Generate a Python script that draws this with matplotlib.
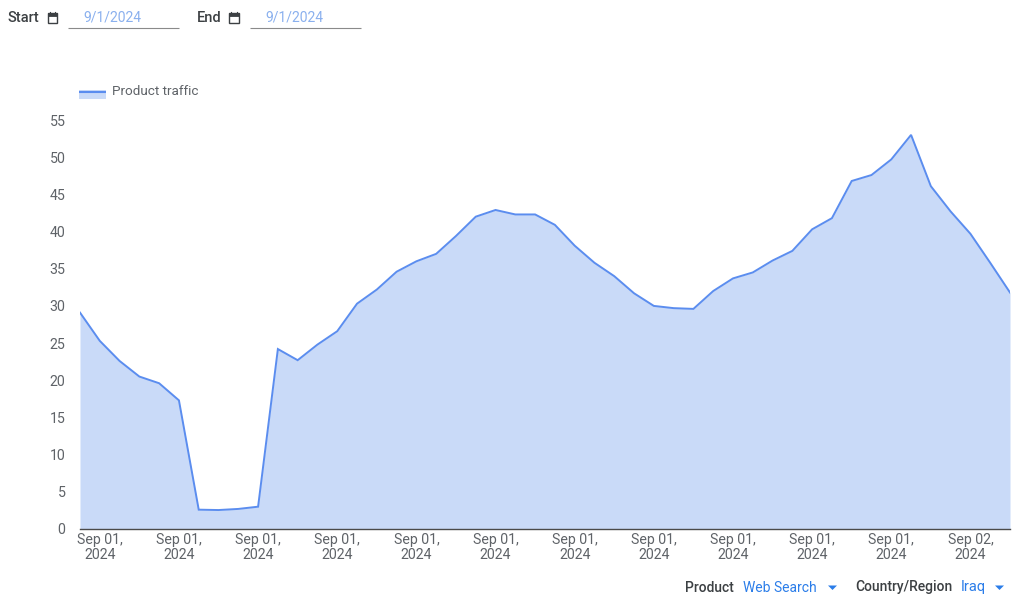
import matplotlib
matplotlib.use('Agg')
import numpy as np
from matplotlib import pyplot as plt
from matplotlib.patches import Rectangle, Polygon

plt.rcParams['font.family'] = ['Roboto', 'DejaVu Sans']

# product traffic, one value per sample
traffic = [29.1, 25.3, 22.6, 20.5, 19.6, 17.3, 2.6, 2.55, 2.7, 3.0, 24.2, 22.7,
           24.8, 26.6, 30.3, 32.2, 34.6, 36.0, 37.0, 39.4, 42.0, 42.9, 42.3, 42.3,
           40.9, 38.1, 35.8, 34.0, 31.7, 30.0, 29.7, 29.6, 32.0, 33.7, 34.5, 36.1,
           37.4, 40.3, 41.8, 46.8, 47.6, 49.7, 53.0, 46.1, 42.7, 39.7, 35.8, 31.8]
tick_pos = [1, 5, 9, 13, 17, 21, 25, 29, 33, 37, 41, 45]
tick_labels = ['Sep 01,\n2024'] * 11 + ['Sep 02,\n2024']
y_ticks = [0, 5, 10, 15, 20, 25, 30, 35, 40, 45, 50, 55]

LINE = '#5b8def'
FILL = '#c9daf8'
GREY = '#5f6368'
DARK = '#3c4043'
BLUE = '#2b7de9'
W, H = 1024, 602

fig = plt.figure(figsize=(W / 100, H / 100), dpi=100)
ax = fig.add_axes([80 / W, 1 - 529 / H, 930 / W, 409 / H])
x = np.arange(len(traffic))
ax.fill_between(x, traffic, 0, color=FILL, lw=0)
ax.plot(x, traffic, color=LINE, lw=1.4, solid_joinstyle='miter')
ax.set_xlim(0, len(traffic) - 1)
ax.set_ylim(0, 55)
ax.set_xticks(tick_pos)
ax.set_xticklabels(tick_labels, linespacing=1.05)
ax.set_yticks(y_ticks)
ax.tick_params(axis='both', length=0, labelsize=10.2, labelcolor=GREY)
ax.tick_params(axis='x', pad=3)
ax.tick_params(axis='y', pad=10.5)
for side in ['top', 'right', 'left']:
    ax.spines[side].set_visible(False)
ax.spines['bottom'].set_color('#4a4a4a')
ax.spines['bottom'].set_linewidth(1)

# overlay in pixel coordinates for the page controls
ui = fig.add_axes([0, 0, 1, 1], facecolor='none')
ui.set_xlim(0, W)
ui.set_ylim(H, 0)
ui.axis('off')


def calendar(px, py):
    ui.add_patch(Rectangle((px, py), 9.5, 9.5, fill=False, ec=DARK, lw=1))
    ui.add_patch(Rectangle((px, py), 9.5, 2.5, fc=DARK, ec=DARK, lw=0.6))
    ui.plot([px + 2, px + 2], [py - 1.5, py], color=DARK, lw=0.8)
    ui.plot([px + 7.5, px + 7.5], [py - 1.5, py], color=DARK, lw=0.8)


ui.text(7, 17.5, 'Start', fontsize=10.5, fontweight=500, color=DARK, va='center')
calendar(47.5, 13)
ui.text(83, 17.5, '9/1/2024', fontsize=10, color='#8ab0ee', va='center')
ui.plot([68, 179], [27.5, 27.5], color='#8a8a8a', lw=0.8, solid_capstyle='butt')

ui.text(197, 17.5, 'End', fontsize=10.5, fontweight=500, color=DARK, va='center')
calendar(229, 13)
ui.text(265, 17.5, '9/1/2024', fontsize=10, color='#8ab0ee', va='center')
ui.plot([250, 361], [27.5, 27.5], color='#8a8a8a', lw=0.8, solid_capstyle='butt')

# legend swatch
ui.add_patch(Rectangle((79, 90), 27, 8.5, fc=FILL, lw=0))
ui.plot([79, 106], [91.5, 91.5], color=LINE, lw=1.5, solid_capstyle='butt')
ui.text(112, 91.5, 'Product traffic', fontsize=9.7, color=GREY, va='center')

# bottom selectors
ui.text(685, 587.5, 'Product', fontsize=10, fontweight=500, color=DARK, va='center')
ui.text(743, 587.5, 'Web Search', fontsize=10, color=BLUE, va='center')
ui.add_patch(Polygon([(828, 585.5), (837, 585.5), (832.5, 590)], fc=BLUE, lw=0))
ui.text(855, 587.5, 'Country/Region', fontsize=10, fontweight=500, color=DARK, va='center')
ui.text(961, 587.5, 'Iraq', fontsize=10.5, color=BLUE, va='center')
ui.add_patch(Polygon([(995, 585.5), (1004, 585.5), (999.5, 590)], fc=BLUE, lw=0))

fig.savefig('out.png', dpi=100)
